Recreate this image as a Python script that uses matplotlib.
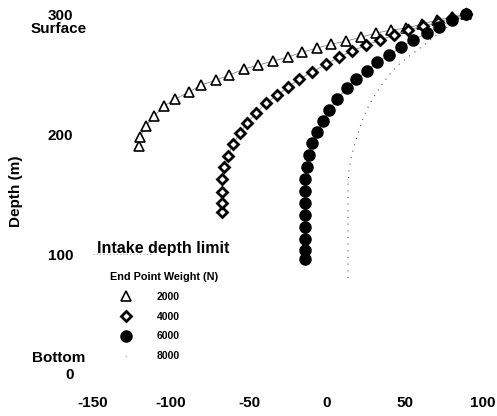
import matplotlib
matplotlib.use('Agg')
import matplotlib.pyplot as plt
from matplotlib.lines import Line2D

plt.rcParams['font.family'] = ['Liberation Sans', 'DejaVu Sans']
plt.rcParams['font.weight'] = 'bold'

# horizontal offset (m) and depth above bottom (m) for each end point weight
x_2000 = [-120.5, -119.9, -116.0, -110.9, -104.5, -97.4, -88.5, -80.8, -71.2, -62.8,
          -53.2, -44.2, -34.6, -25.0, -16.0, -6.4, 2.6, 12.2, 21.8, 31.4,
          41.0, 50.6, 60.9, 70.5, 80.1, 89.1]
y_2000 = [190.0, 197.5, 206.7, 215.0, 223.3, 229.2, 235.0, 240.8, 245.0, 249.2,
          254.2, 257.5, 260.8, 264.2, 268.3, 271.7, 275.0, 277.5, 280.8, 284.2,
          286.7, 288.3, 291.7, 295.0, 297.5, 300.0]

x_4000 = [-67.3, -67.3, -67.3, -67.3, -66.0, -63.5, -60.3, -55.8, -51.3, -45.5,
          -39.1, -32.0, -25.0, -17.9, -9.6, -0.6, 7.7, 16.0, 25.0, 34.0,
          42.9, 51.9, 61.5, 71.2, 80.1, 89.1]
y_4000 = [135.0, 142.5, 151.7, 162.5, 172.5, 181.7, 191.7, 200.8, 209.2, 217.5,
          225.8, 232.5, 239.2, 245.8, 251.7, 258.3, 264.2, 269.2, 274.2, 278.3,
          282.5, 286.7, 290.0, 293.3, 296.7, 300.0]

x_6000 = [-14.1, -14.1, -14.1, -14.1, -14.1, -14.1, -14.1, -14.1, -12.8, -11.5,
          -9.6, -6.4, -2.6, 1.3, 6.4, 12.8, 18.6, 25.6, 32.1, 39.7,
          47.4, 55.1, 64.1, 71.8, 80.1, 89.1]
y_6000 = [95.8, 103.3, 112.5, 122.5, 132.5, 142.5, 152.5, 162.5, 172.5, 182.5,
          192.5, 201.7, 210.8, 220.0, 229.2, 238.3, 245.8, 252.5, 260.0, 265.8,
          272.5, 278.3, 284.2, 289.2, 295.0, 300.0]

x_8000 = [13.5, 13.5, 13.5, 13.5, 13.5, 13.5, 13.5, 13.5, 13.5, 14.1,
          15.4, 17.3, 19.9, 22.4, 25.6, 29.5, 34.0, 39.1, 45.5, 51.9,
          59.6, 66.0, 72.4, 80.1, 89.1]
y_8000 = [80.0, 90.0, 100.0, 110.0, 120.0, 130.0, 140.0, 150.0, 160.0, 170.0,
          180.0, 190.0, 200.8, 210.8, 220.8, 230.0, 239.2, 248.3, 257.5, 264.2,
          271.7, 278.3, 285.0, 291.7, 300.0]

weights = ['2000', '4000', '6000', '8000']
x_ticks = [-150, -100, -50, 0, 50, 100]
y_ticks = [0, 100, 200, 300]
intake_limit = 100

fig = plt.figure(figsize=(4.97, 4.16), dpi=100, facecolor='white')
ax = fig.add_axes([0.187, 0.101, 0.785, 0.865])

ax.plot(x_2000, y_2000, color='#888888', lw=0.6, marker='^', ms=7,
        mfc='white', mec='black', mew=1.2, clip_on=False, zorder=3)
ax.plot(x_4000, y_4000, color='#888888', lw=0.6, marker='D', ms=4.8,
        mfc='white', mec='black', mew=2.0, clip_on=False, zorder=4)
ax.plot(x_6000, y_6000, color='#888888', lw=0.6, marker='o', ms=8,
        mfc='black', mec='black', clip_on=False, zorder=5)
ax.plot(x_8000, y_8000, color='#555555', lw=0.8, ls=(0, (1, 5)),
        clip_on=False, zorder=2)

# faint intake depth limit line
ax.axhline(intake_limit, xmin=0, xmax=0.15, color='#aaaaaa', lw=0.8, ls=(0, (1, 2)))

ax.set_xlim(-150, 100)
ax.set_ylim(0, 300)
for s in ax.spines.values():
    s.set_visible(False)

ax.set_xticks(x_ticks)
ax.set_xticklabels([str(v) for v in x_ticks], fontsize=11, fontweight='bold')
ax.set_yticks(y_ticks)
ax.set_yticklabels([str(v) for v in y_ticks], fontsize=11, fontweight='bold')
ax.tick_params(axis='x', length=0, pad=16)
ax.tick_params(axis='y', length=0, pad=14)

ax.text(-0.088, 0.958, 'Surface', transform=ax.transAxes, ha='center', va='center',
        fontsize=11, fontweight='bold')
ax.text(-0.088, 0.045, 'Bottom', transform=ax.transAxes, ha='center', va='center',
        fontsize=11, fontweight='bold')

ax.set_ylabel('Depth (m)', fontsize=11, fontweight='bold')
ax.yaxis.set_label_coords(-0.179, 0.508)

ax.text(0.01, 0.35, 'Intake depth limit', transform=ax.transAxes, ha='left',
        va='center', fontsize=11.5, fontweight='bold')

handles = [
    Line2D([], [], ls='none', marker='^', ms=7, mfc='white', mec='black', mew=1.2),
    Line2D([], [], ls='none', marker='D', ms=4.8, mfc='white', mec='black', mew=2.0),
    Line2D([], [], ls='none', marker='o', ms=8, mfc='black', mec='black'),
    Line2D([], [], ls='none', marker='.', ms=1, color='#cccccc'),
]
leg = ax.legend(handles, weights, title='End Point Weight (N)', loc='upper left',
                bbox_to_anchor=(0.02, 0.31), frameon=False, numpoints=1,
                handlelength=3.0, handletextpad=1.45, labelspacing=0.95,
                prop={'size': 7.5, 'weight': 'bold'},
                title_fontproperties={'size': 7.8, 'weight': 'bold'})
leg._legend_box.align = 'left'

fig.savefig('out.png', dpi=100, facecolor='white')
